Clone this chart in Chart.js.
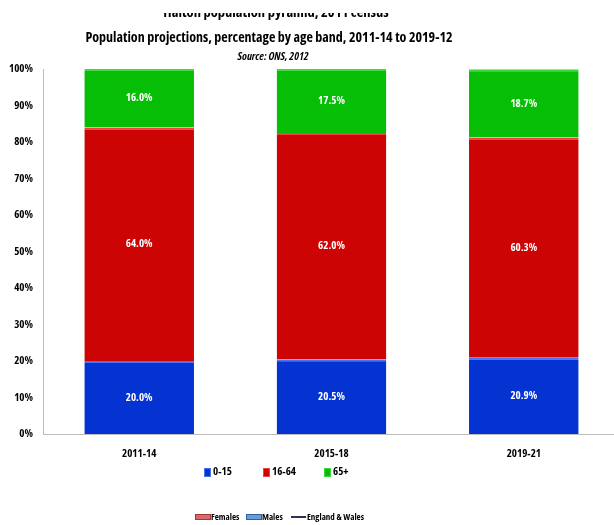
<!DOCTYPE html>
<html>
<head>
<meta charset="utf-8">
<script src="https://cdn.jsdelivr.net/npm/chart.js@4.4.1/dist/chart.umd.min.js"></script>
<style>
  body { margin: 0; background: #fff; font-family: "Open Sans", sans-serif; font-stretch: condensed; }
  #wrap { position: relative; width: 614px; height: 525px; overflow: hidden; }
  #chartBox { position: absolute; left: 0; top: 0; width: 620px; height: 525px; }
  .txt { position: absolute; white-space: nowrap; font-weight: bold; color: #000; transform: translateX(-50%); }
  .leg { position: absolute; font-size: 11px; font-weight: bold; white-space: nowrap; }
  .sw { display: inline-block; vertical-align: middle; margin-right: 2px; }
  .bl { position: absolute; font-size: 9px; font-weight: bold; white-space: nowrap; top: 510px; }
  .bs { position: absolute; top: 514px; }
  #ghost { position: absolute; left: 0; top: 13px; width: 614px; height: 7px; overflow: hidden; }
</style>
</head>
<body>
<div id="wrap">
  <div id="chartBox"><canvas id="chart" width="620" height="525"></canvas></div>
  <div id="ghost"><div class="txt" style="left:276px; top:-11px; font-size:14.5px;">Halton population pyramid, 2011 census</div></div>
  <div class="txt" style="left:269px; top:27px; font-size:14px;">Population projections, percentage by age band, 2011-14 to 2019-12</div>
  <div class="txt" style="left:273px; top:48px; font-size:11px; font-style:italic;">Source: ONS, 2012</div>
  <div id="legend"></div>
  <div class="bs" style="left:195px; width:14px; height:4px; background:#d46a6a; border:1px solid #a33;"></div>
  <div class="bl" style="left:211px;">Females</div>
  <div class="bs" style="left:246px; width:14px; height:4px; background:#6a9be0; border:1px solid #2f5fa8;"></div>
  <div class="bl" style="left:262px;">Males</div>
  <div class="bs" style="left:291px; top:516px; width:15px; height:1.5px; background:#3a2a55;"></div>
  <div class="bl" style="left:307px;">England &amp; Wales</div>
</div>
<script>
const periods = ['2011-14', '2015-18', '2019-21'];
const ageBands = ['0-15', '16-64', '65+'];
const age0to15 = [20.0, 20.5, 20.9];
const age16to64 = [64.0, 62.0, 60.3];
const age65plus = [16.0, 17.5, 18.7];
const yTicks = [0, 10, 20, 30, 40, 50, 60, 70, 80, 90, 100];

const fillColors = ['#0433D2', '#CC0404', '#06BE06'];
const edgeColors = ['#4A72F2', '#F04040', '#40DA40'];
const fontFamily = '"Open Sans", sans-serif';

// html legend, placed like the original
const legend = document.getElementById('legend');
const legendX = [204, 263, 324];
ageBands.forEach((band, i) => {
    const item = document.createElement('div');
    item.className = 'leg';
    item.style.left = legendX[i] + 'px';
    item.style.top = '463px';
    item.innerHTML = '<span class="sw" style="width:5px;height:7px;background:' + fillColors[i] + ';border:1px solid ' + edgeColors[i] + ';"></span>' + band;
    legend.appendChild(item);
});

// draw the percentage inside every segment
const valueLabels = {
    id: 'valueLabels',
    afterDatasetsDraw(chart) {
        const ctx = chart.ctx;
        ctx.save();
        ctx.fillStyle = '#fff';
        ctx.font = 'bold condensed 11px ' + fontFamily;
        ctx.textAlign = 'center';
        ctx.textBaseline = 'middle';
        chart.data.datasets.forEach((ds, i) => {
            chart.getDatasetMeta(i).data.forEach((bar, j) => {
                ctx.fillText(ds.data[j].toFixed(1) + '%', bar.x, (bar.y + bar.base) / 2);
            });
        });
        ctx.restore();
    }
};

const series = [age0to15, age16to64, age65plus];

new Chart(document.getElementById('chart'), {
    type: 'bar',
    data: {
        labels: periods,
        datasets: series.map((vals, i) => ({
            label: ageBands[i],
            data: vals,
            backgroundColor: fillColors[i],
            borderColor: edgeColors[i],
            borderWidth: { top: 2, left: 0, right: 0, bottom: 0 },
            borderSkipped: false,
            barPercentage: 0.57,
            categoryPercentage: 1
        }))
    },
    options: {
        responsive: false,
        animation: false,
        layout: { padding: { top: 69, right: 0, bottom: 0, left: 0 } },
        plugins: {
            legend: { display: false },
            title: { display: false },
            tooltip: { enabled: false }
        },
        scales: {
            x: {
                stacked: true,
                grid: { display: false },
                border: { display: true, color: '#bdbdbd', width: 1 },
                ticks: {
                    color: '#000',
                    padding: 5,
                    font: { family: fontFamily, size: 11, weight: 'bold condensed' }
                },
                afterFit(scale) { scale.height = 91; }
            },
            y: {
                stacked: true,
                min: 0,
                max: 100,
                afterBuildTicks(scale) { scale.ticks = yTicks.map(v => ({ value: v })); },
                grid: { display: false, drawTicks: false },
                border: { display: true, color: '#bdbdbd', width: 1 },
                ticks: {
                    color: '#000',
                    padding: 10,
                    font: { family: fontFamily, size: 11, weight: 'bold condensed' },
                    callback: v => v + '%'
                },
                afterFit(scale) { scale.width = 43; }
            }
        }
    },
    plugins: [valueLabels]
});
</script>
</body>
</html>
